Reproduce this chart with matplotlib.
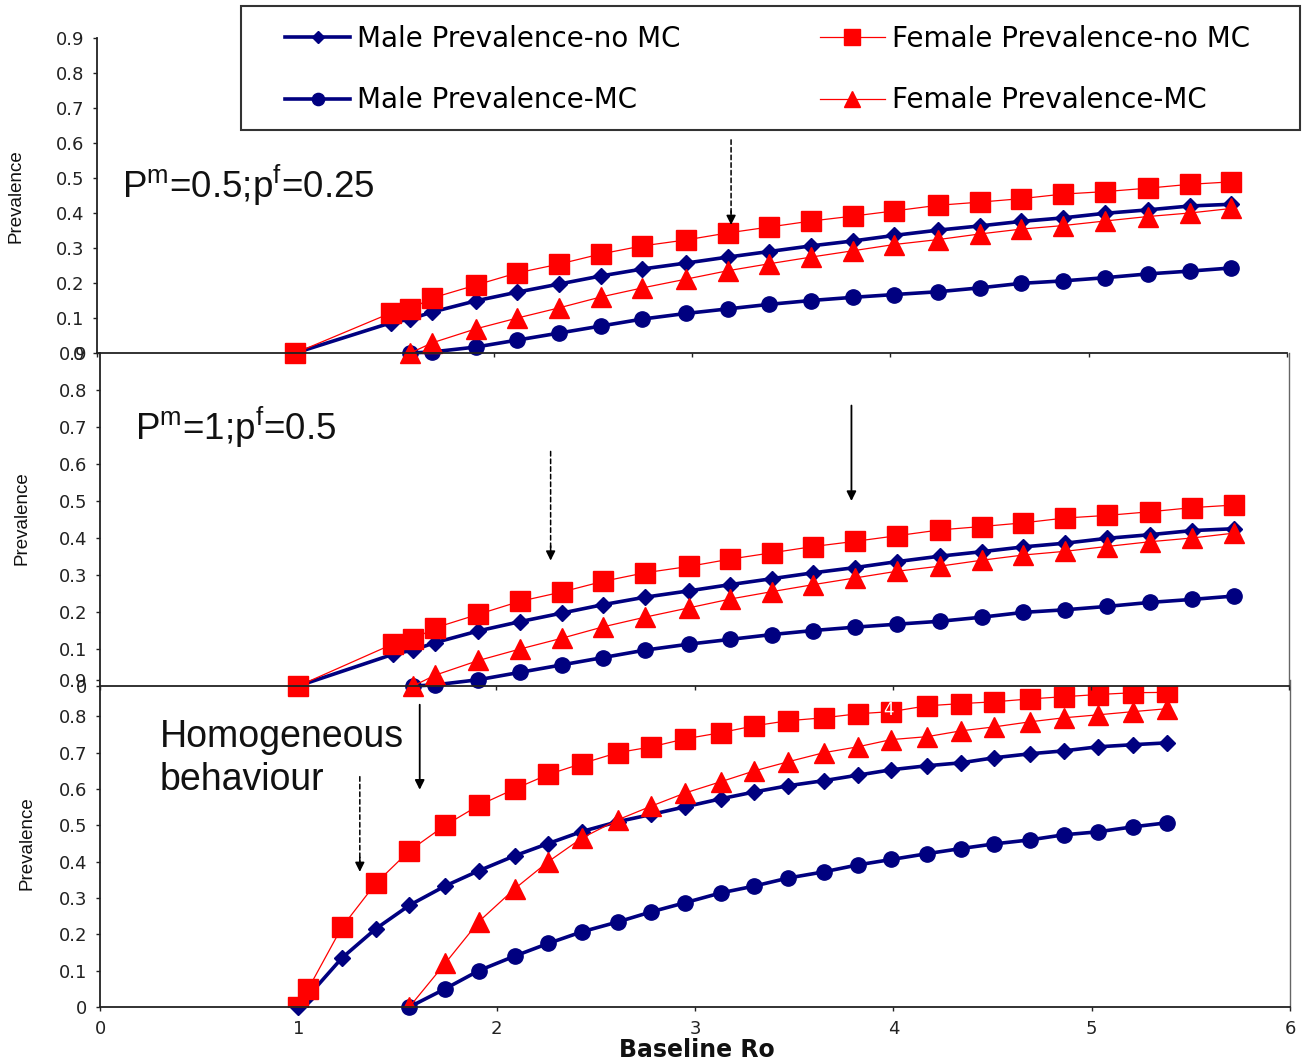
import numpy as np
import matplotlib
matplotlib.use("Agg")
import matplotlib.pyplot as plt
from matplotlib.lines import Line2D
from matplotlib.patches import Rectangle

# ---------------- data ----------------
# Upper two panels (P^m=0.5;p^f=0.25 and P^m=1;p^f=0.5)
top_x = [1.00, 1.48, 1.58, 1.69, 1.91, 2.12, 2.33, 2.54, 2.75, 2.97, 3.18, 3.39,
         3.60, 3.81, 4.02, 4.24, 4.45, 4.66, 4.87, 5.08, 5.30, 5.51, 5.72]
top_male_nomc = [0, 0.086, 0.097, 0.117, 0.149, 0.174, 0.197, 0.220, 0.240, 0.257, 0.274, 0.290,
                 0.306, 0.320, 0.336, 0.351, 0.363, 0.376, 0.386, 0.399, 0.409, 0.420, 0.425]
top_fem_nomc = [0, 0.114, 0.126, 0.157, 0.194, 0.229, 0.254, 0.283, 0.306, 0.323, 0.343, 0.360,
                0.377, 0.391, 0.406, 0.422, 0.431, 0.441, 0.454, 0.461, 0.471, 0.482, 0.489]
top_x_mc = top_x[2:]
top_male_mc = [0, 0.003, 0.017, 0.037, 0.057, 0.077, 0.097, 0.113, 0.126, 0.139, 0.150,
               0.159, 0.167, 0.175, 0.186, 0.199, 0.206, 0.215, 0.226, 0.234, 0.243]
top_fem_mc = [0, 0.029, 0.069, 0.100, 0.129, 0.160, 0.186, 0.211, 0.235, 0.255, 0.274,
              0.292, 0.310, 0.324, 0.340, 0.354, 0.364, 0.377, 0.390, 0.400, 0.413]

# Bottom panel (homogeneous behaviour)
bot_x = [1.00, 1.05, 1.22, 1.39, 1.56, 1.74, 1.91, 2.09, 2.26, 2.43, 2.61, 2.78, 2.95, 3.13,
         3.30, 3.47, 3.65, 3.82, 3.99, 4.17, 4.34, 4.51, 4.69, 4.86, 5.03, 5.21, 5.38]
bot_fem_nomc = [0, 0.05, 0.22, 0.34, 0.43, 0.50, 0.555, 0.60, 0.64, 0.67, 0.70, 0.716, 0.738, 0.755,
                0.774, 0.788, 0.796, 0.807, 0.813, 0.829, 0.835, 0.840, 0.848, 0.854, 0.860, 0.865, 0.866]
bot_male_nomc = [0, 0.03, 0.135, 0.215, 0.28, 0.333, 0.375, 0.416, 0.45, 0.483, 0.51, 0.53, 0.551, 0.573,
                 0.592, 0.609, 0.623, 0.638, 0.653, 0.664, 0.672, 0.686, 0.697, 0.705, 0.716, 0.722, 0.727]
bot_x_mc = bot_x[4:]
bot_fem_mc = [0, 0.12, 0.235, 0.325, 0.40, 0.465, 0.515, 0.553, 0.589, 0.62, 0.65, 0.675,
              0.70, 0.716, 0.736, 0.744, 0.76, 0.771, 0.785, 0.796, 0.804, 0.813, 0.821]
bot_male_mc = [0, 0.05, 0.10, 0.14, 0.175, 0.207, 0.234, 0.262, 0.287, 0.314, 0.333, 0.355,
               0.372, 0.391, 0.406, 0.422, 0.436, 0.449, 0.46, 0.474, 0.482, 0.496, 0.507]

labels = ["Male Prevalence-no MC", "Male Prevalence-MC",
          "Female Prevalence-no MC", "Female Prevalence-MC"]
y_ticks = [0, 0.1, 0.2, 0.3, 0.4, 0.5, 0.6, 0.7, 0.8, 0.9]
x_ticks = [0, 1, 2, 3, 4, 5, 6]

# ---------------- styles ----------------
NAVY = "#000080"
RED = "#FF0000"
st_male_nomc = dict(color=NAVY, lw=2.6, marker="D", ms=8, mfc=NAVY, mec=NAVY)
st_male_mc = dict(color=NAVY, lw=2.6, marker="o", ms=11, mfc=NAVY, mec=NAVY)
st_fem_nomc = dict(color=RED, lw=0.9, marker="s", ms=14, mfc=RED, mec=RED)
st_fem_mc = dict(color=RED, lw=0.9, marker="^", ms=15, mfc=RED, mec=RED)

W, H = 1302, 1061
fig = plt.figure(figsize=(W / 100, H / 100), dpi=100)
fig.patch.set_facecolor("white")


def rect(l, r, t, b):
    return [l / W, 1 - b / H, (r - l) / W, (b - t) / H]


def style_axes(ax, show_xlabels=False, right=False):
    ax.set_xlim(0, 6)
    ax.set_ylim(0, 0.9)
    ax.set_yticks(y_ticks)
    ax.set_yticklabels([f"{v:g}" for v in y_ticks])
    ax.set_xticks(x_ticks)
    if show_xlabels:
        ax.set_xticklabels([str(v) for v in x_ticks])
    else:
        ax.set_xticklabels([])
    ax.tick_params(direction="out", length=3, width=1, colors="#222222",
                   labelsize=13, pad=6)
    ax.tick_params(axis="x", pad=6)
    for s in ["left", "bottom"]:
        ax.spines[s].set_color("#222222")
        ax.spines[s].set_linewidth(1.3)
    ax.spines["top"].set_visible(False)
    if right:
        ax.spines["right"].set_color("#666666")
        ax.spines["right"].set_linewidth(1.0)
    else:
        ax.spines["right"].set_visible(False)


ax_bot = fig.add_axes(rect(100, 1290, 680, 1007))
ax_mid = fig.add_axes(rect(100, 1289, 353, 686))
ax_top = fig.add_axes(rect(97, 1287, 38, 353))
ax_bot.set_zorder(1)
ax_mid.set_zorder(2)
ax_top.set_zorder(3)
ax_mid.set_facecolor("white")
ax_top.set_facecolor("none")

style_axes(ax_top)
style_axes(ax_mid, right=True)
style_axes(ax_bot, show_xlabels=True, right=True)

for ax in (ax_top, ax_mid):
    ax.plot(top_x, top_male_nomc, clip_on=False, **st_male_nomc)
    ax.plot(top_x_mc, top_male_mc, clip_on=False, **st_male_mc)
    ax.plot(top_x, top_fem_nomc, clip_on=False, **st_fem_nomc)
    ax.plot(top_x_mc, top_fem_mc, clip_on=False, **st_fem_mc)

ax_bot.plot(bot_x, bot_male_nomc, clip_on=False, **st_male_nomc)
ax_bot.plot(bot_x_mc, bot_male_mc, clip_on=False, **st_male_mc)
ax_bot.plot(bot_x, bot_fem_nomc, clip_on=True, **st_fem_nomc)
ax_bot.plot(bot_x_mc, bot_fem_mc, clip_on=True, **st_fem_mc)
ax_bot.text(3.975, 0.818, "4", color="white", fontsize=12, ha="center", va="center",
            family="DejaVu Sans", zorder=5)

# ---------------- legend ----------------
frame = Rectangle((241 / W, 1 - 130 / H), (1300 - 241) / W, 124 / H,
                  transform=fig.transFigure, facecolor="white", edgecolor="#333333",
                  linewidth=1.5, zorder=4)
fig.add_artist(frame)
leg_handles = [Line2D([], [], **st_male_nomc), Line2D([], [], **st_male_mc),
               Line2D([], [], **st_fem_nomc), Line2D([], [], **st_fem_mc)]
for hh in leg_handles:
    hh.set_markersize(hh.get_markersize() * 0.8)
leg = fig.legend(leg_handles, labels, ncol=2, loc="upper left",
                 bbox_to_anchor=(285 / W, 1 - 25 / H), borderaxespad=0,
                 frameon=False, handlelength=2.35, columnspacing=5.0,
                 labelspacing=1.2, prop=dict(family="DejaVu Sans", size=20),
                 handletextpad=0.25, borderpad=0)
leg.set_zorder(5)

# ---------------- annotations ----------------
TXT = dict(family="Liberation Sans", color="#111111")
ax_top.text(0.126, 0.48, r"P$^{\mathregular{m}}$=0.5;p$^{\mathregular{f}}$=0.25",
            fontsize=26.5, ha="left", va="center", **TXT)
ax_mid.text(0.177, 0.70, r"P$^{\mathregular{m}}$=1;p$^{\mathregular{f}}$=0.5",
            fontsize=26.5, ha="left", va="center", **TXT)
ax_bot.text(0.30, 0.683, "Homogeneous\nbehaviour", fontsize=27, ha="left", va="center",
            linespacing=1.25, **TXT)


def arrow(ax, x, y0, y1, dashed):
    if dashed:
        ax.annotate("", xy=(x, y1 + 0.02), xytext=(x, y0),
                    arrowprops=dict(arrowstyle="-", color="black", lw=1.1,
                                    linestyle=(0, (3, 2)), shrinkA=0, shrinkB=0),
                    annotation_clip=False)
        ax.annotate("", xy=(x, y1), xytext=(x, y1 + 0.04),
                    arrowprops=dict(arrowstyle="-|>", color="black", lw=1.1,
                                    mutation_scale=14, shrinkA=0, shrinkB=0),
                    annotation_clip=False)
    else:
        ax.annotate("", xy=(x, y1), xytext=(x, y0),
                    arrowprops=dict(arrowstyle="-|>", color="black", lw=1.3,
                                    mutation_scale=14, shrinkA=0, shrinkB=0),
                    annotation_clip=False)


arrow(ax_top, 3.197, 0.609, 0.366, True)
arrow(ax_mid, 2.274, 0.634, 0.339, True)
arrow(ax_mid, 3.792, 0.758, 0.50, False)
arrow(ax_bot, 1.31, 0.634, 0.372, True)
arrow(ax_bot, 1.612, 0.832, 0.598, False)

# ---------------- axis titles ----------------
fig.text(697 / W, 1 - 1050 / H, "Baseline Ro", fontsize=17, fontweight="bold",
         ha="center", va="center", family="DejaVu Sans", color="#111111")
for xp, yp in [(16, 196), (22, 518), (27, 843)]:
    fig.text(xp / W, 1 - yp / H, "Prevalence", rotation=90, fontsize=13.5,
             ha="center", va="center", family="Liberation Sans", color="#111111")

fig.savefig("out.png", dpi=100, facecolor="white")
